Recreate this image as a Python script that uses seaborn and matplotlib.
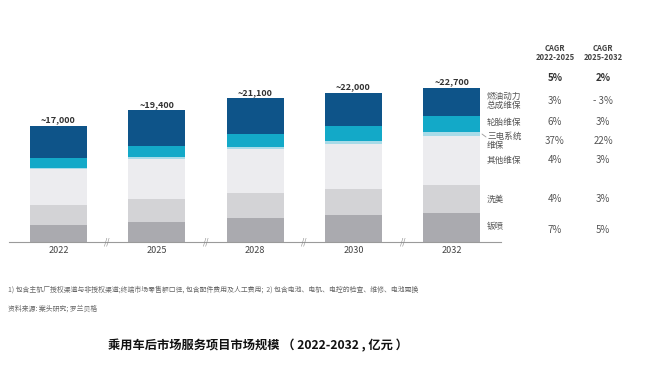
import matplotlib
matplotlib.use("Agg")
import matplotlib.pyplot as plt
import seaborn as sns
import numpy as np
import pandas as pd

years = ["2022", "2025", "2028", "2030", "2032"]
totals = ["~17,000", "~19,400", "~21,100", "~22,000", "~22,700"]
# bottom -> top
banpen = [2410, 2900, 3540, 3930, 4180]        # 钣喷
ximei = [3000, 3390, 3640, 3880, 4180]         # 洗美
other = [5310, 5950, 6440, 6540, 7230]         # 其他维保
sandian = [80, 200, 300, 490, 590]             # 三电系统维保
tyre = [1520, 1670, 2000, 2160, 2310]          # 轮胎维保
fuel = [4770, 5260, 5210, 4970, 4180]          # 燃油动力总成维保

series_names = ["钣喷", "洗美", "其他维保", "三电系统\n维保", "轮胎维保", "燃油动力\n总成维保"]
cagr1 = ["7%", "4%", "4%", "37%", "6%", "3%"]
cagr2 = ["5%", "3%", "3%", "22%", "3%", "- 3%"]
cagr_total = ["5%", "2%"]
colors = ["#aaaaaf", "#d3d3d6", "#ececef", "#a8dbe8", "#13a9c8", "#0e5489"]

sns.set_theme(style="white")
plt.rcParams['font.family'] = ['Noto Sans CJK SC', 'DejaVu Sans']

W, H = 668, 371
fig = plt.figure(figsize=(W / 100, H / 100), dpi=100)
ax_left, ax_right = 9.3, 501.0
base_y, top_y = 241.5, 65.5
ax = fig.add_axes([ax_left / W, (H - base_y) / H, (ax_right - ax_left) / W, (base_y - top_y) / H])

series = [banpen, ximei, other, sandian, tyre, fuel]
bottom = np.zeros(len(years))
for vals, col in zip(series, colors):
    df = pd.DataFrame({"year": years, "value": vals})
    sns.barplot(data=df, x="year", y="value", color=col, width=0.58, bottom=bottom,
                ax=ax, saturation=1, edgecolor="none", linewidth=0, errorbar=None)
    bottom = bottom + np.array(vals)

ax.set_xlim(-0.5, 4.5)
ax.set_ylim(0, 26000)
ax.set_yticks([])
ax.set_xlabel("")
ax.set_ylabel("")
for s in ["top", "right", "left"]:
    ax.spines[s].set_visible(False)
ax.spines["bottom"].set_color("#9a9a9a")
ax.spines["bottom"].set_linewidth(0.8)
ax.tick_params(axis="x", length=0, pad=3, labelsize=6.5, colors="#444444")

for i, t in enumerate(totals):
    ax.text(i, bottom[i] + 250, t, ha="center", va="bottom", fontsize=6.5,
            fontweight="bold", color="#333333")

# break marks
for i in range(4):
    ax.text(i + 0.5, 0, "//", ha="center", va="center", fontsize=6, color="#888888",
            style="italic")

def ftext(x, y, s, **kw):
    fig.text(x / W, 1 - y / H, s, **kw)

# CAGR headers
ftext(555, 53, "CAGR\n2022-2025", ha="center", va="center", fontsize=5.5, fontweight="bold",
      color="#444444", linespacing=1.0)
ftext(603, 53, "CAGR\n2025-2032", ha="center", va="center", fontsize=5.5, fontweight="bold",
      color="#444444", linespacing=1.0)
ftext(555, 78, cagr_total[0], ha="center", va="center", fontsize=7, fontweight="bold", color="#333333")
ftext(603, 78, cagr_total[1], ha="center", va="center", fontsize=7, fontweight="bold", color="#333333")

row_y = [230, 199, 160, 141, 122, 101]
for name, c1, c2, yy in zip(series_names, cagr1, cagr2, row_y):
    ly = yy - 3 if name.startswith("钣喷") else yy
    ftext(487, ly, name, ha="left", va="center", fontsize=6.2, color="#555555", linespacing=1.0)
    ftext(555, yy, c1, ha="center", va="center", fontsize=7, color="#555555")
    ftext(603, yy, c2, ha="center", va="center", fontsize=7, color="#555555")

# leader line to 三电系统
fig.add_artist(plt.Line2D([482 / W, 486 / W], [1 - 134 / H, 1 - 137 / H], color="#999999", lw=0.6))

ftext(8, 290, "1) 包含主机厂授权渠道与非授权渠道;终端市场零售额口径, 包含配件费用及人工费用;  2) 包含电池、电机、电控的检查、维修、电池更换",
      ha="left", va="center", fontsize=4.95, color="#666666")
ftext(8, 309, "资料来源: 案头研究; 罗兰贝格", ha="left", va="center", fontsize=4.95, color="#666666")
ftext(258, 346, "乘用车后市场服务项目市场规模 （ 2022-2032 , 亿元 ）", ha="center", va="center",
      fontsize=8.8, fontweight="bold", color="#111111")

fig.savefig("out.png", dpi=100)
